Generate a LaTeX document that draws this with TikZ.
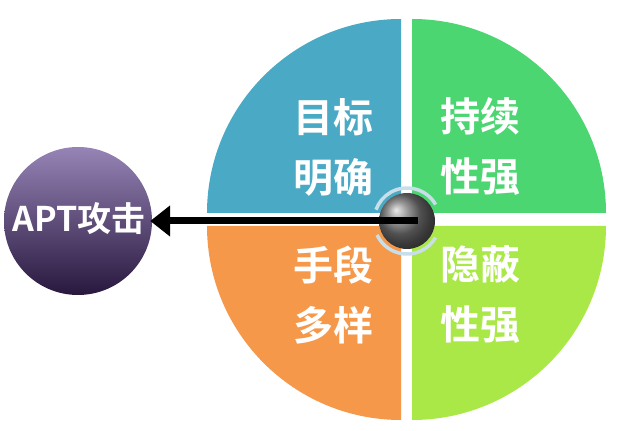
\documentclass[tikz,border=0pt]{standalone}
\usepackage{fontspec}
\newfontfamily\cjk{Noto Sans CJK SC}[BoldFont={Noto Sans CJK SC Bold}]
\usetikzlibrary{arrows.meta,shadings}
\definecolor{qblue}{RGB}{74,170,197}
\definecolor{qgreen}{RGB}{76,214,114}
\definecolor{qorange}{RGB}{245,152,74}
\definecolor{qlime}{RGB}{170,232,72}
\definecolor{ringc}{RGB}{200,222,232}
\definecolor{aptop}{RGB}{150,132,182}
\definecolor{apmid}{RGB}{80,56,115}
\definecolor{apbot}{RGB}{40,24,62}
\tikzset{
  qtext/.style={text=white,align=center,font=\cjk\bfseries\fontsize{40}{60}\selectfont,inner sep=0pt},
  ringarc/.style={draw=ringc,line width=3.5pt},
  arrowline/.style={draw=black,line width=7pt,shorten >=-2pt,-{Triangle[length=20pt,width=30pt]}},
}
\begin{document}
\begin{tikzpicture}[x=1pt,y=1pt]
\useasboundingbox[fill=white] (0,0) rectangle (622,431);
% quadrants
\fill[qblue]   (401,218) -- ++(-194,0) arc[start angle=180,end angle=90,radius=194] -- cycle;
\fill[qgreen]  (412,218) -- ++(0,194) arc[start angle=90,end angle=0,radius=194] -- cycle;
\fill[qorange] (401,205) -- ++(-194,0) arc[start angle=180,end angle=270,radius=194] -- cycle;
\fill[qlime]   (412,205) -- ++(194,0) arc[start angle=0,end angle=-90,radius=194] -- cycle;
% texts
\node[qtext] (q1) at (333,284) {目标\\明确};
\node[qtext] (q2) at (480,284) {持续\\性强};
\node[qtext] (q3) at (333,136) {手段\\多样};
\node[qtext] (q4) at (480,136) {隐蔽\\性强};
% left sphere
\node[circle,minimum size=148pt,inner sep=0pt,top color=aptop,middle color=apmid,bottom color=apbot] (apt) at (78,210) {};
\node[text=white,font=\cjk\bfseries\fontsize{34}{36}\selectfont,inner sep=0pt] (aptt) at (79,212) {APT攻击};
% hub ring
\draw[ringarc] (407,210) ++(30:33) arc[start angle=30,end angle=160,radius=33];
\draw[ringarc] (407,210) ++(205:33) arc[start angle=205,end angle=330,radius=33];
% hub sphere
\node[circle,minimum size=56pt,inner sep=0pt,shading=ball,ball color=black!55] (hub) at (407,210) {};
% arrow
\draw[arrowline] ([xshift=11pt]hub.center) -- (apt.east);
\end{tikzpicture}
\end{document}
